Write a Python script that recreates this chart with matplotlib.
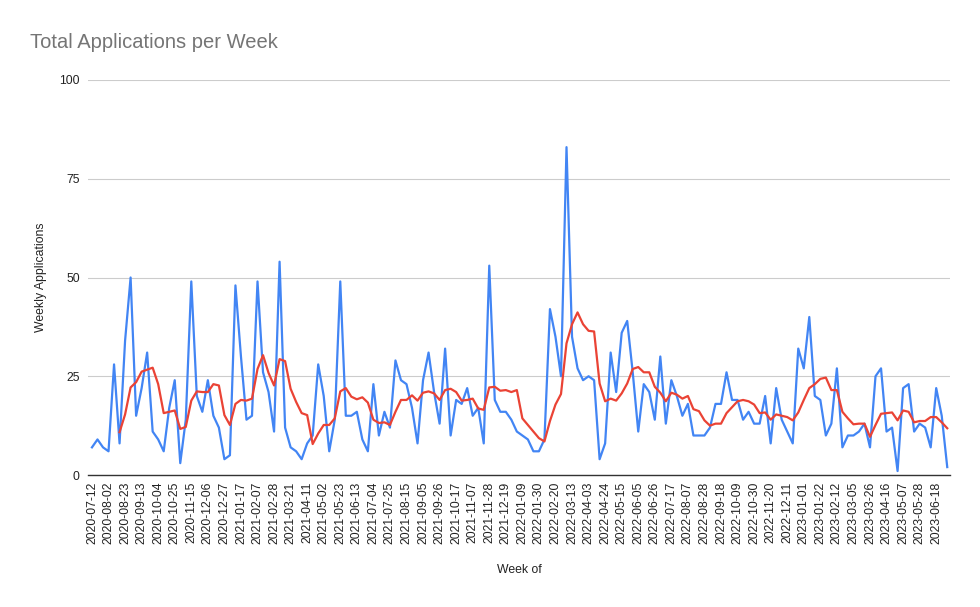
import numpy as np
import pandas as pd
import matplotlib
matplotlib.use("Agg")
import matplotlib.pyplot as plt

# weekly counts, one value per week starting 2020-07-12
apps_2020 = [7, 9, 7, 6, 28, 8, 34, 50, 15, 22, 31, 11, 9, 6, 17, 24, 3, 14, 49, 20, 16, 24, 15, 12, 4, 5]
apps_2021a = [48, 30, 14, 15, 49, 26, 21, 11, 54, 12, 7, 6, 4, 8, 10, 28, 20, 6, 14, 49, 15, 15, 16, 9, 6]
apps_2021b = [23, 10, 16, 12, 29, 24, 23, 17, 8, 24, 31, 21, 13, 32, 10, 19, 18, 22, 15, 17, 8, 53, 19, 16, 16]
apps_2022a = [14, 11, 10, 9, 6, 6, 9, 42, 35, 25, 83, 35, 27, 24, 25, 24, 4, 8, 31, 21, 36, 39, 26, 11, 23, 21]
apps_2022b = [14, 30, 13, 24, 20, 15, 18, 10, 10, 10, 12, 18, 18, 26, 19, 19, 14, 16, 13, 13, 20, 8, 22, 14, 11, 8]
apps_2023 = [32, 27, 40, 20, 19, 10, 13, 27, 7, 10, 10, 11, 13, 7, 25, 27, 11, 12, 1, 22, 23, 11, 13, 12, 7, 22, 15, 2]

weekly = apps_2020 + apps_2021a + apps_2021b + apps_2022a + apps_2022b + apps_2023
weeks = pd.date_range("2020-07-12", periods=len(weekly), freq="7D").strftime("%Y-%m-%d")
y_ticks = [0, 25, 50, 75, 100]

s = pd.Series(weekly, dtype=float)
trend = s.rolling(6).mean()   # moving-average trendline, 6 weeks

plt.rcParams["font.family"] = ["Liberation Sans", "DejaVu Sans"]

fig = plt.figure(figsize=(9.8, 6.07), dpi=100)
ax = fig.add_axes([88 / 980, 1 - 475 / 607, (950 - 88) / 980, (475 - 80) / 607])

x = np.arange(len(weekly))
ax.plot(x, s, color="#4285F4", lw=1.6, solid_joinstyle="round")
ax.plot(x, trend, color="#EA4335", lw=1.6, solid_joinstyle="round")

ax.set_ylim(0, 100)
ax.set_xlim(-0.72, len(weekly) - 0.5)
ax.set_yticks(y_ticks)
ax.set_yticklabels([str(v) for v in y_ticks])
ax.yaxis.grid(True, color="#cccccc", lw=0.8)
ax.set_axisbelow(True)

ax.set_xticks(x[::3])
ax.set_xticklabels(weeks[::3], rotation=90)
ax.tick_params(axis="x", length=0, pad=5, labelsize=8.8, colors="#222222")
ax.tick_params(axis="y", length=0, pad=6, labelsize=8.8, colors="#222222")

for side in ("top", "right", "left"):
    ax.spines[side].set_visible(False)
ax.spines["bottom"].set_color("#333333")
ax.spines["bottom"].set_linewidth(1.0)

ax.set_xlabel("Week of", fontsize=8.8, color="#222222", labelpad=14)
ax.set_ylabel("Weekly Applications", fontsize=8.8, color="#222222", labelpad=9)

fig.text(30 / 980, 1 - 42 / 607, "Total Applications per Week", fontsize=14.5,
         color="#757575", va="center", ha="left")

fig.savefig("out.png", dpi=100)
